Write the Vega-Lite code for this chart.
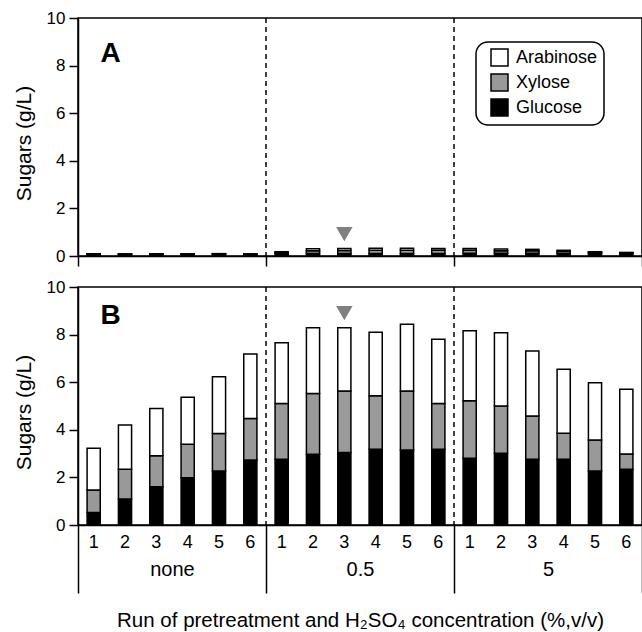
{
  "$schema": "https://vega.github.io/schema/vega-lite/v6.json",
  "padding": {"left": 12, "top": 8, "right": 0, "bottom": 0},
  "bounds": "flush",
  "spacing": 31,
  "config": {
    "font": "Liberation Sans",
    "view": {"stroke": "black", "strokeWidth": 1.5},
    "axis": {"domainColor": "black", "domainWidth": 1.5, "tickColor": "black", "tickWidth": 1.5, "labelColor": "black", "titleColor": "black", "grid": false, "titleFontWeight": "normal"},
    "legend": {"strokeColor": "black", "strokeWidth": 1.5, "cornerRadius": 12, "padding": 6, "labelColor": "black"}
  },
  "data": {
    "values": [
      {"panel": "A", "group": "none", "run": 1, "Glucose": 0.07, "Xylose": 0.01, "Arabinose": 0.01},
      {"panel": "A", "group": "none", "run": 2, "Glucose": 0.07, "Xylose": 0.01, "Arabinose": 0.01},
      {"panel": "A", "group": "none", "run": 3, "Glucose": 0.07, "Xylose": 0.01, "Arabinose": 0.01},
      {"panel": "A", "group": "none", "run": 4, "Glucose": 0.07, "Xylose": 0.01, "Arabinose": 0.01},
      {"panel": "A", "group": "none", "run": 5, "Glucose": 0.08, "Xylose": 0.01, "Arabinose": 0.01},
      {"panel": "A", "group": "none", "run": 6, "Glucose": 0.07, "Xylose": 0.01, "Arabinose": 0.01},
      {"panel": "A", "group": "0.5", "run": 1, "Glucose": 0.12, "Xylose": 0.03, "Arabinose": 0.03},
      {"panel": "A", "group": "0.5", "run": 2, "Glucose": 0.10, "Xylose": 0.12, "Arabinose": 0.08},
      {"panel": "A", "group": "0.5", "run": 3, "Glucose": 0.10, "Xylose": 0.13, "Arabinose": 0.09},
      {"panel": "A", "group": "0.5", "run": 4, "Glucose": 0.11, "Xylose": 0.13, "Arabinose": 0.09},
      {"panel": "A", "group": "0.5", "run": 5, "Glucose": 0.11, "Xylose": 0.13, "Arabinose": 0.09},
      {"panel": "A", "group": "0.5", "run": 6, "Glucose": 0.11, "Xylose": 0.13, "Arabinose": 0.08},
      {"panel": "A", "group": "5", "run": 1, "Glucose": 0.12, "Xylose": 0.12, "Arabinose": 0.08},
      {"panel": "A", "group": "5", "run": 2, "Glucose": 0.12, "Xylose": 0.10, "Arabinose": 0.07},
      {"panel": "A", "group": "5", "run": 3, "Glucose": 0.12, "Xylose": 0.10, "Arabinose": 0.06},
      {"panel": "A", "group": "5", "run": 4, "Glucose": 0.12, "Xylose": 0.08, "Arabinose": 0.04},
      {"panel": "A", "group": "5", "run": 5, "Glucose": 0.12, "Xylose": 0.04, "Arabinose": 0.02},
      {"panel": "A", "group": "5", "run": 6, "Glucose": 0.11, "Xylose": 0.02, "Arabinose": 0.02},
      {"panel": "B", "group": "none", "run": 1, "Glucose": 0.52, "Xylose": 0.95, "Arabinose": 1.75},
      {"panel": "B", "group": "none", "run": 2, "Glucose": 1.09, "Xylose": 1.25, "Arabinose": 1.86},
      {"panel": "B", "group": "none", "run": 3, "Glucose": 1.61, "Xylose": 1.30, "Arabinose": 1.99},
      {"panel": "B", "group": "none", "run": 4, "Glucose": 1.99, "Xylose": 1.40, "Arabinose": 1.98},
      {"panel": "B", "group": "none", "run": 5, "Glucose": 2.27, "Xylose": 1.57, "Arabinose": 2.39},
      {"panel": "B", "group": "none", "run": 6, "Glucose": 2.73, "Xylose": 1.74, "Arabinose": 2.71},
      {"panel": "B", "group": "0.5", "run": 1, "Glucose": 2.76, "Xylose": 2.35, "Arabinose": 2.55},
      {"panel": "B", "group": "0.5", "run": 2, "Glucose": 2.97, "Xylose": 2.56, "Arabinose": 2.76},
      {"panel": "B", "group": "0.5", "run": 3, "Glucose": 3.05, "Xylose": 2.58, "Arabinose": 2.66},
      {"panel": "B", "group": "0.5", "run": 4, "Glucose": 3.18, "Xylose": 2.25, "Arabinose": 2.67},
      {"panel": "B", "group": "0.5", "run": 5, "Glucose": 3.15, "Xylose": 2.48, "Arabinose": 2.80},
      {"panel": "B", "group": "0.5", "run": 6, "Glucose": 3.18, "Xylose": 1.93, "Arabinose": 2.69},
      {"panel": "B", "group": "5", "run": 1, "Glucose": 2.80, "Xylose": 2.42, "Arabinose": 2.94},
      {"panel": "B", "group": "5", "run": 2, "Glucose": 3.01, "Xylose": 1.99, "Arabinose": 3.08},
      {"panel": "B", "group": "5", "run": 3, "Glucose": 2.76, "Xylose": 1.82, "Arabinose": 2.73},
      {"panel": "B", "group": "5", "run": 4, "Glucose": 2.76, "Xylose": 1.09, "Arabinose": 2.69},
      {"panel": "B", "group": "5", "run": 5, "Glucose": 2.27, "Xylose": 1.30, "Arabinose": 2.41},
      {"panel": "B", "group": "5", "run": 6, "Glucose": 2.34, "Xylose": 0.64, "Arabinose": 2.72}
    ]
  },
  "vconcat": [
    {
      "width": 564,
      "height": 238,
      "transform": [{"filter": "datum.panel === 'A'"}],
      "layer": [
        {
          "layer": [
            {
              "transform": [
                {"fold": ["Glucose", "Xylose", "Arabinose"], "as": ["sugar", "value"]},
                {"calculate": "indexof(['Glucose','Xylose','Arabinose'], datum.sugar)", "as": "ord"},
                {"calculate": "datum.group + '-' + datum.run", "as": "key"}
              ],
              "mark": {"type": "bar", "stroke": "black", "strokeWidth": 1.5},
              "encoding": {
                "x": {
                  "field": "key", "type": "nominal",
                  "scale": {"domain": ["none-1","none-2","none-3","none-4","none-5","none-6","0.5-1","0.5-2","0.5-3","0.5-4","0.5-5","0.5-6","5-1","5-2","5-3","5-4","5-5","5-6"], "paddingInner": 0.58, "paddingOuter": 0.29},
                  "axis": {"title": null, "labels": false, "ticks": false, "domain": true}
                },
                "y": {
                  "field": "value", "type": "quantitative", "stack": "zero",
                  "scale": {"domain": [0, 10], "nice": false},
                  "axis": {"title": "Sugars (g/L)", "values": [0, 2, 4, 6, 8, 10], "tickSize": 9, "labelPadding": 4, "labelFontSize": 17, "titleFontSize": 21, "titlePadding": 12, "titleY": 125, "titleAnchor": "middle"}
                },
                "color": {
                  "field": "sugar", "type": "nominal",
                  "scale": {"domain": ["Arabinose", "Xylose", "Glucose"], "range": ["white", "#999999", "black"]},
                  "legend": {"title": null, "orient": "none", "legendX": 398, "legendY": 24, "symbolType": "square", "symbolSize": 289, "symbolStrokeColor": "black", "symbolStrokeWidth": 1.5, "labelFontSize": 18, "labelOffset": 7, "rowPadding": 2, "symbolOffset": 8}
                },
                "order": {"field": "ord", "type": "quantitative"}
              }
            },
            {
              "data": {"values": [{}]},
              "mark": {"type": "point", "shape": "triangle-down", "filled": true, "color": "#808080", "opacity": 1, "size": 270},
              "encoding": {"x": {"datum": "0.5-3", "type": "nominal"}, "y": {"datum": 0.92, "type": "quantitative"}}
            },
            {
              "data": {"values": [{}]},
              "mark": {"type": "text", "text": "A", "fontSize": 28, "fontWeight": "bold", "dx": 17, "align": "center", "baseline": "middle", "color": "black"},
              "encoding": {"x": {"datum": "none-1", "type": "nominal"}, "y": {"datum": 8.5, "type": "quantitative"}}
            }
          ]
        },
        {
          "transform": [{"filter": "datum.run === 1 && datum.group !== 'none'"}],
          "mark": {"type": "rule", "strokeDash": [5, 4], "strokeWidth": 1.5, "color": "black"},
          "encoding": {
            "x": {
              "field": "group", "type": "nominal", "bandPosition": 0,
              "scale": {"domain": ["none", "0.5", "5"], "paddingInner": 0, "paddingOuter": 0},
              "axis": {"orient": "bottom", "tickBand": "extent", "tickSize": 10, "labels": false, "domain": false, "title": null}
            }
          }
        }
      ],
      "resolve": {"scale": {"x": "independent"}}
    },
    {
      "width": 564,
      "height": 238,
      "transform": [{"filter": "datum.panel === 'B'"}],
      "layer": [
        {
          "layer": [
            {
              "transform": [
                {"fold": ["Glucose", "Xylose", "Arabinose"], "as": ["sugar", "value"]},
                {"calculate": "indexof(['Glucose','Xylose','Arabinose'], datum.sugar)", "as": "ord"},
                {"calculate": "datum.group + '-' + datum.run", "as": "key"}
              ],
              "mark": {"type": "bar", "stroke": "black", "strokeWidth": 1.5},
              "encoding": {
                "x": {
                  "field": "key", "type": "nominal",
                  "scale": {"domain": ["none-1","none-2","none-3","none-4","none-5","none-6","0.5-1","0.5-2","0.5-3","0.5-4","0.5-5","0.5-6","5-1","5-2","5-3","5-4","5-5","5-6"], "paddingInner": 0.58, "paddingOuter": 0.29},
                  "axis": {"title": null, "ticks": false, "labelPadding": 8, "labelFontSize": 18, "labelAngle": 0, "labelExpr": "slice(datum.value, -1)"}
                },
                "y": {
                  "field": "value", "type": "quantitative", "stack": "zero",
                  "scale": {"domain": [0, 10], "nice": false},
                  "axis": {"title": "Sugars (g/L)", "values": [0, 2, 4, 6, 8, 10], "tickSize": 9, "labelPadding": 4, "labelFontSize": 17, "titleFontSize": 21, "titlePadding": 12, "titleY": 125, "titleAnchor": "middle"}
                },
                "color": {
                  "field": "sugar", "type": "nominal",
                  "scale": {"domain": ["Arabinose", "Xylose", "Glucose"], "range": ["white", "#999999", "black"]},
                  "legend": {"title": null, "orient": "none", "legendX": 398, "legendY": 24, "symbolType": "square", "symbolSize": 289, "symbolStrokeColor": "black", "symbolStrokeWidth": 1.5, "labelFontSize": 18, "labelOffset": 7, "rowPadding": 2, "symbolOffset": 8}
                },
                "order": {"field": "ord", "type": "quantitative"}
              }
            },
            {
              "data": {"values": [{}]},
              "mark": {"type": "point", "shape": "triangle-down", "filled": true, "color": "#808080", "opacity": 1, "size": 270},
              "encoding": {"x": {"datum": "0.5-3", "type": "nominal"}, "y": {"datum": 8.9, "type": "quantitative"}}
            },
            {
              "data": {"values": [{}]},
              "mark": {"type": "text", "text": "B", "fontSize": 28, "fontWeight": "bold", "dx": 17, "align": "center", "baseline": "middle", "color": "black"},
              "encoding": {"x": {"datum": "none-1", "type": "nominal"}, "y": {"datum": 8.8, "type": "quantitative"}}
            }
          ]
        },
        {
          "transform": [{"filter": "datum.run === 1 && datum.group !== 'none'"}],
          "mark": {"type": "rule", "strokeDash": [5, 4], "strokeWidth": 1.5, "color": "black"},
          "encoding": {
            "x": {
              "field": "group", "type": "nominal", "bandPosition": 0,
              "scale": {"domain": ["none", "0.5", "5"], "paddingInner": 0, "paddingOuter": 0},
              "axis": {"orient": "bottom", "tickBand": "extent", "tickSize": 68, "labelPadding": -34, "labelFontSize": 20, "labelAngle": 0, "domain": false, "title": "Run of pretreatment and H₂SO₄ concentration (%,v/v)", "titleFontSize": 20.5, "titlePadding": 17}
            }
          }
        }
      ],
      "resolve": {"scale": {"x": "independent"}}
    }
  ]
}
